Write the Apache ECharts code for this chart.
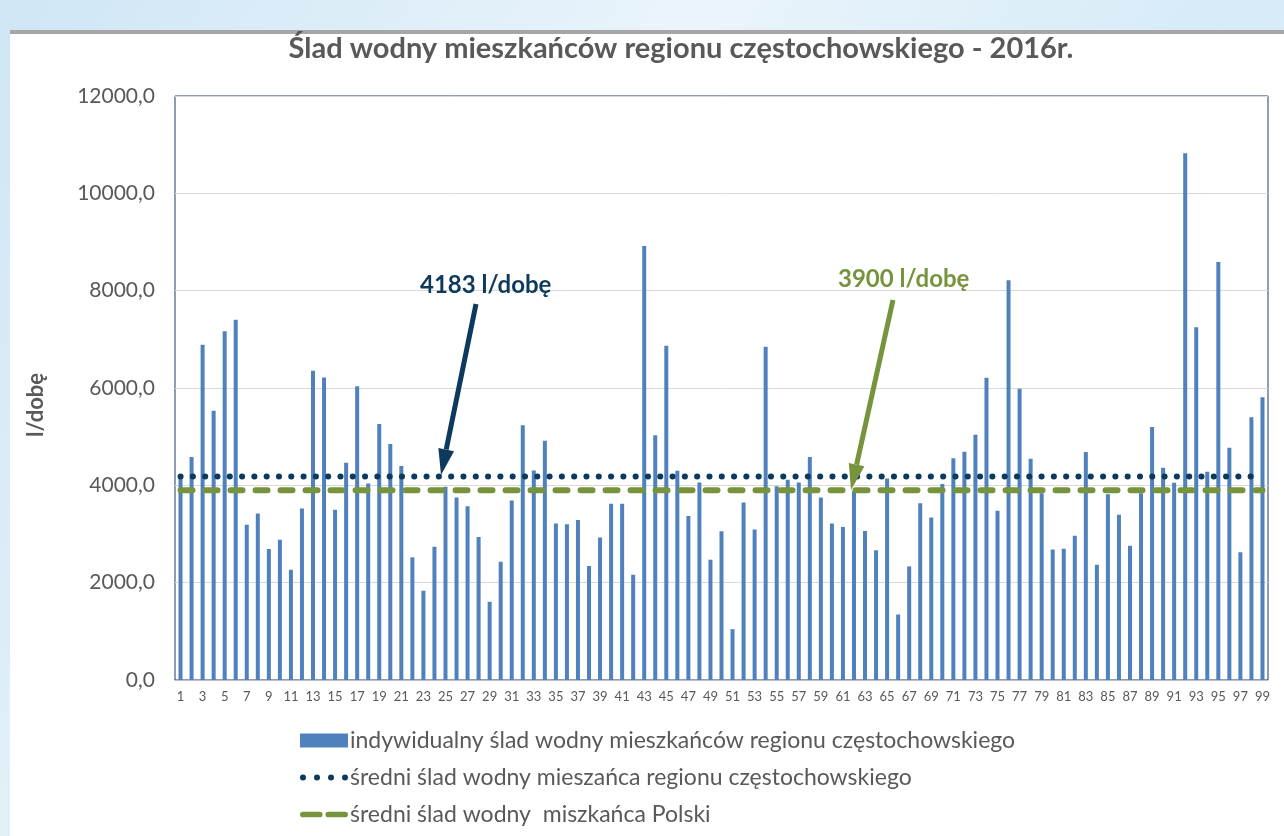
<!DOCTYPE html>
<html>
<head>
<meta charset="utf-8">
<script src="https://cdn.jsdelivr.net/npm/echarts@6/dist/echarts.min.js"></script>
<style>
    body { margin: 0; width: 1284px; height: 836px; overflow: hidden;
           background: linear-gradient(120deg, #cfe6f5 0%, #eaf4fb 40%, #d6ebf7 70%, #e9f3fa 100%); }
    #panel { position: absolute; left: 10px; top: 30px; width: 1274px; height: 806px; background: #fff;
             border-top: 4px solid #a6a6a6; box-sizing: border-box; }
    #main { position: absolute; left: 0; top: 0; width: 1284px; height: 836px; }
</style>
</head>
<body>
<div id="panel"></div>
<div id="main"></div>
<script>
// dane
var osoby = [];
for (var i = 1; i <= 99; i++) { osoby.push(String(i)); }

var sladIndywidualny = [
    4150, 4580, 6890, 5530, 7165, 7400, 3190, 3420, 2690, 2880,
    2265, 3525, 6355, 6215, 3500, 4465, 6037, 4040, 5260, 4850,
    4395, 2520, 1834, 2740, 3970, 3750, 3570, 2940, 1607, 2430,
    3690, 5233, 4306, 4918, 3214, 3200, 3290, 2342, 2926, 3620,
    3620, 2163, 8920, 5027, 6868, 4300, 3372, 4059, 2472, 3056,
    1044, 3647, 3090, 6848, 3983, 4114, 4059, 4581, 3750, 3214,
    3146, 3880, 3063, 2665, 4141, 1346, 2335, 3633, 3338, 4025,
    4554, 4691, 5041, 6209, 3478, 8213, 5985, 4544, 3838, 2684,
    2699, 2963, 4684, 2368, 3816, 3397, 2757, 3838, 5199, 4360,
    4051, 10824, 7250, 4279, 8588, 4772, 2625, 5397, 5809
];

var sredniRegion = 4183;
var sredniPolska = 3900;

var yTicks = [0, 2000, 4000, 6000, 8000, 10000, 12000];

var nazwy = [
    'indywidualny ślad wodny mieszkańców regionu częstochowskiego',
    'średni ślad wodny mieszańca regionu częstochowskiego',
    'średni ślad wodny  miszkańca Polski'
];

var font = 'Lato, "Open Sans", sans-serif';
var granat = '#0d3a5c';
var zielony = '#77933c';
var niebieski = '#4f81bd';

// ikony legendy: cztery kropki i dwie kreski
var ikonaKropki = 'path://M0,3a3,3 0 1,0 6,0a3,3 0 1,0 -6,0z' +
    'M14,3a3,3 0 1,0 6,0a3,3 0 1,0 -6,0z' +
    'M28,3a3,3 0 1,0 6,0a3,3 0 1,0 -6,0z' +
    'M42,3a3,3 0 1,0 6,0a3,3 0 1,0 -6,0z';
var ikonaKreski = 'path://M3,0h18a3,3 0 0,1 0,6h-18a3,3 0 0,1 0,-6z' +
    'M30,0h18a3,3 0 0,1 0,6h-18a3,3 0 0,1 0,-6z';

var echart = echarts.init(document.getElementById('main'));

function strzalka(x1, y1, x2, y2, kolor) {
    var ang = Math.atan2(y2 - y1, x2 - x1);
    var len = 26, half = 8;
    var bx = x2 - len * Math.cos(ang), by = y2 - len * Math.sin(ang);
    var nx = -Math.sin(ang) * half, ny = Math.cos(ang) * half;
    return [{
        type: 'line',
        shape: { x1: x1, y1: y1, x2: bx, y2: by },
        style: { stroke: kolor, lineWidth: 5 },
        z: 100
    }, {
        type: 'polygon',
        shape: { points: [[x2, y2], [bx + nx, by + ny], [bx - nx, by - ny]] },
        style: { fill: kolor },
        z: 100
    }];
}

function legenda(nazwa, top, ikona, h) {
    return {
        left: 300,
        top: top,
        padding: 0,
        itemWidth: 48,
        itemHeight: h,
        itemGap: 0,
        lineStyle: { opacity: 0 },
        textStyle: { color: '#595959', fontSize: 23, fontFamily: font, padding: [0, 0, 0, -3] },
        data: [{ name: nazwa, icon: ikona }]
    };
}

var option = {
    backgroundColor: 'transparent',
    textStyle: { fontFamily: font },
    title: {
        text: 'Ślad wodny mieszkańców regionu częstochowskiego - 2016r.',
        left: 676,
        textAlign: 'center',
        top: 29,
        textStyle: { color: '#595959', fontSize: 29, fontWeight: 'bold', fontFamily: font }
    },
    grid: {
        left: 175,
        right: 16,
        top: 96,
        bottom: 156,
        show: true,
        borderColor: '#1f3864',
        borderWidth: 1
    },
    legend: [
        legenda(nazwy[0], 729, 'rect', 14),
        legenda(nazwy[1], 766, ikonaKropki, 6),
        legenda(nazwy[2], 803, ikonaKreski, 6)
    ],
    xAxis: {
        type: 'category',
        data: osoby,
        axisLine: { lineStyle: { color: '#bfbfbf', width: 1 } },
        axisTick: { show: false },
        axisLabel: { color: '#595959', fontSize: 13, interval: 1, margin: 10 }
    },
    yAxis: {
        type: 'value',
        min: yTicks[0],
        max: yTicks[yTicks.length - 1],
        interval: 2000,
        name: 'l/dobę',
        nameLocation: 'middle',
        nameGap: 128,
        nameTextStyle: { color: '#595959', fontSize: 22, fontWeight: 'bold', fontFamily: font,
                         padding: [0, 34, 0, 0] },
        axisLine: { show: false },
        axisTick: { show: false },
        axisLabel: {
            color: '#595959', fontSize: 21, margin: 20,
            formatter: function (v) { return v.toFixed(1).replace('.', ','); }
        },
        splitLine: { lineStyle: { color: '#d9d9d9', width: 1 } }
    },
    series: [{
        name: nazwy[0],
        type: 'bar',
        data: sladIndywidualny,
        barWidth: 4,
        itemStyle: { color: niebieski }
    }, {
        name: nazwy[1],
        type: 'line',
        symbol: 'none',
        data: osoby.map(function () { return sredniRegion; }),
        lineStyle: { color: granat, width: 6, type: [0.1, 12.2], cap: 'round' },
        itemStyle: { color: granat },
        z: 5
    }, {
        name: nazwy[2],
        type: 'line',
        symbol: 'none',
        data: osoby.map(function () { return sredniPolska; }),
        lineStyle: { color: zielony, width: 6, type: [12, 13], cap: 'round' },
        itemStyle: { color: zielony },
        z: 4
    }],
    graphic: [].concat(
        [{
            type: 'text', left: 420, top: 273, z: 100,
            style: { text: sredniRegion + ' l/dobę', fill: granat, font: 'bold 24px ' + font }
        }, {
            type: 'text', left: 838, top: 267, z: 100,
            style: { text: sredniPolska + ' l/dobę', fill: zielony, font: 'bold 24px ' + font }
        }],
        strzalka(476, 304, 441, 475, granat),
        strzalka(893, 300, 851, 490, zielony)
    )
};

echart.setOption(option);
</script>
</body>
</html>
